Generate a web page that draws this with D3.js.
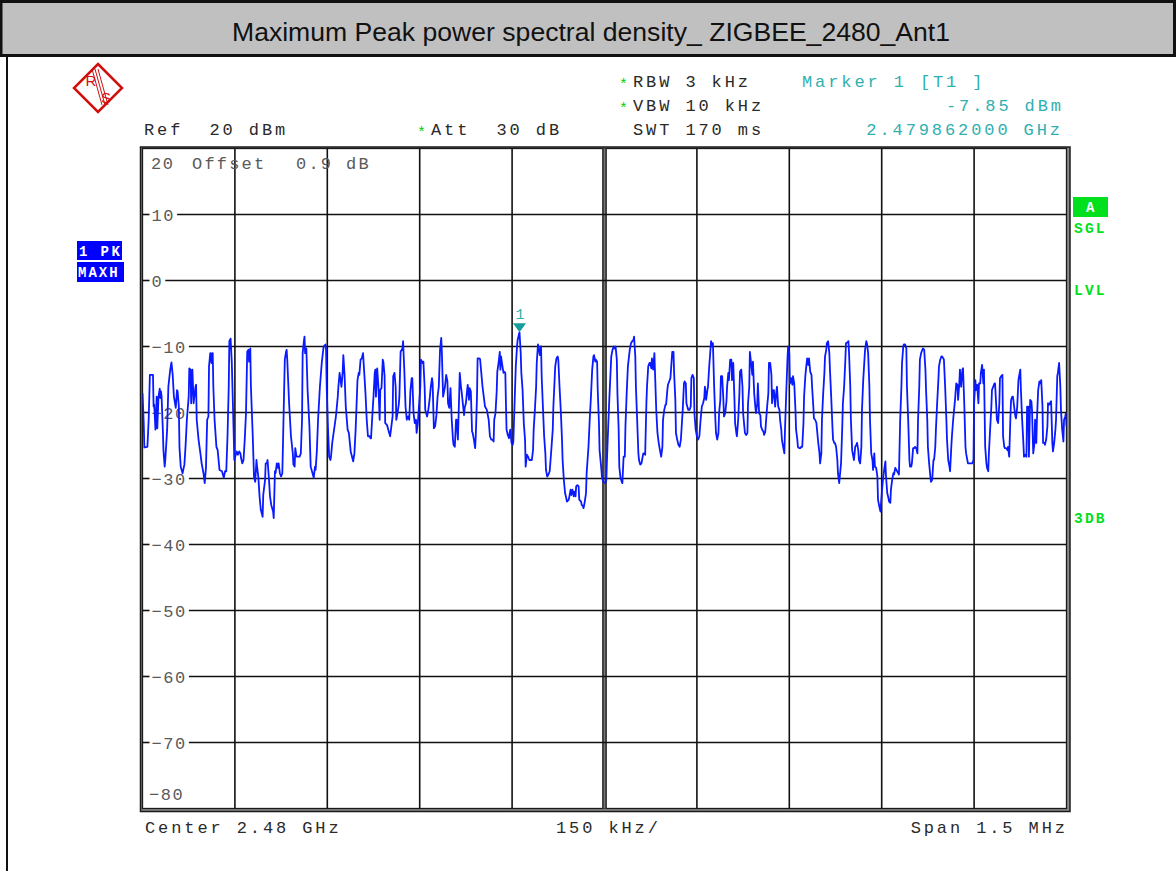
<!DOCTYPE html>
<html>
<head>
<meta charset="utf-8">
<script src="https://cdn.jsdelivr.net/npm/d3@7"></script>
<style>
  html, body { margin: 0; padding: 0; background: #fff; }
  svg { display: block; }
  .mono { font-family: "Liberation Mono", "DejaVu Sans Mono", monospace; white-space: pre; }
</style>
</head>
<body>
<svg id="chart" width="1176" height="871"></svg>
<script>
// ---- Screen data -------------------------------------------------------
const title = "Maximum Peak power spectral density_ ZIGBEE_2480_Ant1";
const spanKHz = 1500;
const refLevelDbm = 20;
const dbPerDiv = 10;
const levelTicks = [10, 0, -10, -20, -30, -40, -50, -60, -70];
const freqGridKHz = [-600, -450, -300, -150, 0, 150, 300, 450, 600];
const marker = { freqKHz: -138, levelDbm: -7.85, label: "1" };
const setupLeft = ["Ref  20 dBm", "Att  30 dB"];
const setupRight = ["RBW 3 kHz", "VBW 10 kHz", "SWT 170 ms"];
const markerText = ["Marker 1 [T1 ]", "-7.85 dBm", "2.479862000 GHz"];
const footer = ["Center 2.48 GHz", "150 kHz/", "Span 1.5 MHz"];

// Max-hold trace: [offset from centre in kHz, level in dBm]
const traceMaxHold = [
[-750,-17.1],[-748,-21.6],[-747,-25.3],[-742,-25.2],[-740,-21.1],[-738,-14.3],[-733,-14.3],[-732,-19.1],[-731,-18.8],[-729,-22.6],[-728,-20.6],[-727,-17.6],[-726,-22.4],[-724,-17.6],[-722,-16.4],[-721,-17.8],[-720,-16.8],[-719,-17.6],[-717,-22.6],[-716,-25.7],[-714,-28.2],[-713,-27.2],[-710,-22.6],[-708,-16.1],[-705,-13.5],[-703,-12.4],[-701,-14.3],[-699,-17.6],[-696,-19.3],[-694,-16.6],[-693,-16.8],[-691,-19.1],[-690,-25.2],[-688,-28.2],[-685,-29.2],[-682,-27.9],[-680,-24.9],[-678,-21.1],[-675,-17.6],[-674,-13.3],[-672,-13.5],[-671,-18.6],[-669,-13.5],[-667,-18.6],[-664,-16.1],[-663,-15.8],[-662,-21.1],[-659,-24.1],[-656,-26.2],[-654,-27.7],[-651,-29.2],[-649,-30.7],[-647,-28.4],[-645,-21.1],[-643,-20.6],[-642,-13.0],[-640,-11.0],[-638,-12.5],[-637,-11.0],[-636,-11.0],[-635,-16.1],[-633,-21.1],[-630,-25.2],[-628,-25.7],[-625,-28.7],[-621,-28.9],[-618,-29.9],[-616,-28.9],[-614,-28.9],[-612,-23.6],[-610,-16.1],[-609,-9.2],[-607,-8.8],[-605,-12.5],[-602,-23.1],[-601,-27.2],[-598,-26.2],[-597,-25.9],[-595,-26.4],[-593,-25.9],[-591,-26.2],[-590,-26.9],[-588,-27.7],[-586,-27.2],[-584,-24.1],[-582,-20.1],[-580,-10.8],[-578,-10.5],[-577,-12.3],[-575,-10.3],[-574,-16.1],[-571,-23.6],[-569,-29.7],[-567,-30.5],[-565,-27.2],[-564,-28.2],[-562,-29.7],[-560,-32.7],[-558,-34.7],[-555,-35.8],[-554,-32.5],[-551,-30.2],[-550,-27.7],[-548,-27.7],[-547,-27.2],[-545,-29.7],[-543,-32.7],[-541,-34.0],[-538,-35.0],[-537,-36.0],[-535,-28.9],[-534,-29.2],[-532,-27.7],[-530,-28.4],[-529,-27.7],[-527,-29.2],[-525,-29.7],[-523,-29.2],[-521,-20.6],[-519,-12.0],[-517,-10.8],[-516,-10.5],[-515,-12.0],[-512,-18.6],[-509,-23.6],[-506,-26.2],[-505,-27.9],[-503,-28.2],[-502,-25.4],[-500,-26.7],[-498,-26.7],[-495,-26.7],[-493,-26.2],[-491,-21.1],[-490,-11.0],[-488,-9.2],[-487,-8.5],[-486,-11.0],[-484,-10.3],[-482,-16.6],[-479,-22.1],[-477,-28.2],[-474,-29.2],[-472,-29.9],[-470,-28.2],[-469,-28.7],[-467,-25.9],[-465,-21.1],[-462,-16.1],[-459,-12.5],[-456,-10.0],[-453,-9.7],[-452,-10.5],[-451,-16.1],[-449,-22.1],[-447,-26.7],[-445,-27.2],[-444,-26.7],[-442,-24.6],[-439,-22.6],[-436,-20.6],[-433,-17.6],[-432,-16.1],[-430,-14.0],[-427,-16.1],[-425,-13.8],[-424,-11.3],[-422,-14.3],[-420,-19.1],[-417,-22.6],[-415,-23.1],[-412,-25.9],[-408,-27.4],[-406,-26.2],[-404,-22.6],[-401,-15.1],[-399,-14.0],[-398,-14.3],[-396,-12.0],[-394,-11.8],[-392,-11.0],[-391,-12.5],[-388,-17.1],[-386,-21.1],[-384,-23.6],[-381,-23.6],
[-380,-23.9],[-379,-23.9],[-377,-20.6],[-375,-17.6],[-373,-14.0],[-372,-13.5],[-371,-17.6],[-369,-13.3],[-367,-16.1],[-365,-21.1],[-364,-16.6],[-362,-16.3],[-360,-12.0],[-359,-12.3],[-357,-14.5],[-356,-21.6],[-353,-21.9],[-351,-22.6],[-348,-23.6],[-346,-22.1],[-344,-20.6],[-343,-14.5],[-341,-14.0],[-339,-16.1],[-338,-21.1],[-336,-20.1],[-334,-18.8],[-333,-17.6],[-331,-10.8],[-328,-10.3],[-327,-9.2],[-325,-13.5],[-323,-19.1],[-321,-21.1],[-319,-20.6],[-317,-21.1],[-315,-16.6],[-313,-14.8],[-312,-14.8],[-310,-20.1],[-308,-21.6],[-306,-21.1],[-305,-23.1],[-303,-21.6],[-301,-18.8],[-299,-16.1],[-298,-12.0],[-295,-12.5],[-294,-12.3],[-292,-16.1],[-291,-19.6],[-288,-20.6],[-286,-19.6],[-284,-18.1],[-282,-16.1],[-280,-14.8],[-279,-15.6],[-277,-22.4],[-275,-22.1],[-273,-20.6],[-271,-17.6],[-269,-16.1],[-267,-10.5],[-265,-8.7],[-264,-11.0],[-262,-17.6],[-260,-16.6],[-259,-16.1],[-257,-14.3],[-255,-15.3],[-254,-18.6],[-252,-19.3],[-250,-16.3],[-248,-21.1],[-246,-24.1],[-245,-24.9],[-243,-25.2],[-241,-21.1],[-240,-21.1],[-238,-24.1],[-236,-17.6],[-235,-14.0],[-233,-16.1],[-232,-16.8],[-230,-18.6],[-228,-20.4],[-227,-19.3],[-225,-18.6],[-223,-16.6],[-222,-15.8],[-220,-18.1],[-219,-16.3],[-217,-16.8],[-215,-22.9],[-214,-23.1],[-212,-24.1],[-210,-25.4],[-209,-23.6],[-207,-17.6],[-206,-11.8],[-204,-11.8],[-202,-11.9],[-200,-14.0],[-198,-16.1],[-196,-17.6],[-194,-19.1],[-191,-19.6],[-188,-21.1],[-186,-23.6],[-184,-24.1],[-182,-24.1],[-180,-24.4],[-179,-21.1],[-177,-20.1],[-175,-16.8],[-174,-13.8],[-172,-12.5],[-170,-10.8],[-169,-13.5],[-168,-11.5],[-166,-12.8],[-164,-14.0],[-163,-13.8],[-161,-14.0],[-160,-18.6],[-159,-22.6],[-157,-23.4],[-155,-23.9],[-154,-23.1],[-153,-22.6],[-151,-24.6],[-149,-24.9],[-148,-24.4],[-146,-18.6],[-144,-13.0],[-142,-10.0],[-141,-9.0],[-138,-7.85],[-136,-11.0],[-135,-14.0],[-133,-16.6],[-131,-21.6],[-129,-24.1],[-128,-28.2],[-126,-26.4],[-124,-26.7],[-122,-27.2],[-120,-27.2],[-118,-27.2],[-116,-25.7],[-115,-22.6],[-113,-19.6],[-111,-16.1],[-110,-12.5],[-108,-9.7],[-107,-10.0],[-105,-11.3],[-103,-10.0],[-102,-14.5],[-100,-19.1],[-98,-23.6],[-96,-26.2],[-95,-28.7],[-93,-29.7],[-91,-29.4],[-89,-28.9],[-88,-27.7],[-86,-25.2],[-84,-22.6],[-83,-19.1],[-81,-15.1],[-80,-13.0],[-78,-11.8],[-76,-11.5],[-75,-12.0],[-73,-16.1],[-71,-19.6],[-69,-24.1],[-68,-27.2],[-66,-30.2],[-64,-32.2],[-62,-33.0],[-61,-33.5],[-58,-33.2],[-57,-32.7],[-55,-31.7],[-54,-32.5],[-52,-31.7],[-50,-32.7],[-49,-32.0],[-47,-32.7],[-46,-31.2],[-44,-31.0],[-42,-31.2],[-41,-33.2],[-38,-33.5],[-37,-34.0],[-35,-34.2],[-34,-34.5],[-32,-33.5],[-30,-32.2],[-29,-29.2],[-26,-25.2],[-24,-21.1],[-22,-17.6],[-20,-13.5],[-18,-11.5],[-17,-11.3],[-15,-12.3],[-14,-12.0],[-12,-12.3],[-11,-16.6],[-9,-21.6],[-8,-25.7],
[-5,-28.7],[-4,-29.9],[-2,-30.5],[1,-30.7],[3,-30.2],[4,-27.2],[6,-22.1],[8,-17.6],[10,-13.5],[11,-11.5],[13,-10.5],[15,-10.0],[16,-10.3],[18,-10.0],[20,-12.0],[21,-17.1],[23,-22.6],[24,-28.2],[26,-29.9],[28,-30.5],[29,-30.7],[31,-26.7],[33,-26.7],[34,-22.1],[36,-17.1],[38,-13.0],[41,-10.5],[43,-9.5],[45,-9.2],[47,-9.0],[48,-8.5],[50,-11.5],[51,-16.1],[53,-21.1],[55,-26.2],[56,-27.2],[58,-27.9],[60,-27.7],[61,-27.2],[63,-26.2],[64,-26.2],[66,-26.4],[68,-18.6],[69,-16.1],[71,-13.0],[73,-12.5],[74,-12.5],[76,-13.3],[77,-11.8],[79,-13.5],[81,-11.0],[82,-14.0],[84,-19.6],[86,-23.1],[88,-24.6],[90,-25.7],[92,-26.7],[94,-25.2],[95,-21.1],[97,-19.6],[99,-18.8],[100,-18.8],[102,-16.6],[103,-15.8],[105,-15.3],[107,-14.8],[108,-13.5],[110,-10.8],[112,-10.8],[113,-14.0],[115,-18.1],[116,-23.1],[118,-24.1],[120,-24.9],[122,-25.2],[124,-24.1],[126,-21.1],[127,-19.6],[129,-15.6],[130,-15.3],[132,-15.6],[133,-18.6],[135,-19.3],[136,-19.6],[138,-19.6],[140,-19.1],[141,-14.8],[143,-14.3],[145,-14.8],[146,-20.1],[148,-22.6],[150,-23.6],[152,-24.1],[154,-23.6],[156,-21.1],[158,-19.1],[160,-18.6],[162,-17.8],[163,-16.1],[165,-18.1],[167,-16.6],[168,-16.1],[170,-13.0],[172,-10.5],[173,-9.2],[175,-10.0],[176,-9.5],[178,-16.1],[180,-21.1],[181,-23.1],[183,-24.1],[185,-23.1],[186,-20.1],[188,-18.1],[189,-14.5],[191,-14.5],[193,-18.1],[194,-20.6],[196,-20.1],[198,-18.3],[199,-16.1],[201,-14.0],[202,-15.1],[204,-12.0],[206,-12.0],[207,-15.1],[209,-12.5],[211,-18.1],[212,-21.6],[214,-23.1],[215,-23.6],[217,-21.1],[219,-17.1],[220,-13.8],[222,-13.5],[224,-16.1],[225,-20.1],[227,-22.1],[228,-23.1],[230,-23.4],[232,-23.1],[233,-18.6],[235,-16.1],[236,-10.8],[238,-12.5],[240,-14.3],[241,-12.3],[243,-17.1],[245,-19.3],[246,-20.1],[248,-18.6],[249,-15.6],[251,-20.1],[253,-20.4],[254,-22.1],[256,-22.6],[258,-22.9],[259,-23.4],[261,-22.9],[262,-21.6],[264,-19.1],[266,-17.1],[267,-12.5],[269,-12.5],[271,-14.3],[272,-18.6],[274,-16.6],[275,-16.6],[277,-19.1],[279,-16.8],[280,-16.1],[282,-19.1],[284,-19.6],[285,-21.1],[287,-22.6],[288,-24.1],[290,-25.2],[292,-26.2],[293,-22.6],[295,-17.1],[297,-12.0],[298,-10.0],[300,-11.0],[301,-15.6],[303,-14.8],[305,-15.8],[306,-14.5],[308,-15.6],[310,-19.6],[311,-22.6],[313,-24.1],[314,-25.2],[316,-25.4],[318,-25.4],[319,-25.2],[321,-25.2],[323,-21.6],[324,-17.6],[326,-14.5],[327,-13.5],[329,-11.8],[331,-12.8],[332,-11.8],[334,-13.8],[336,-14.3],[337,-16.1],[339,-19.1],[340,-20.9],[342,-21.1],[344,-21.6],[345,-22.6],[347,-24.6],[349,-26.2],[350,-27.7],[352,-26.2],[353,-21.1],[355,-17.1],[357,-14.0],[358,-11.5],[360,-10.5],[361,-9.5],[363,-9.2],[365,-11.0],[366,-13.5],[368,-17.6],[370,-22.1],[371,-24.1],[373,-24.6],[374,-24.6],[376,-25.2],[378,-27.2],[379,-29.2],[381,-30.7],
[384,-27.7],[386,-22.1],[387,-18.6],[389,-16.1],[391,-12.0],[392,-9.5],[394,-9.4],[396,-9.2],[397,-11.0],[399,-16.1],[400,-21.1],[402,-25.7],[404,-26.7],[405,-27.2],[407,-25.2],[409,-24.9],[410,-24.6],[412,-25.7],[413,-27.2],[415,-27.7],[417,-25.2],[418,-19.6],[420,-15.1],[422,-12.0],[423,-10.5],[425,-9.2],[426,-9.5],[428,-11.0],[430,-16.1],[431,-21.1],[433,-26.2],[435,-27.2],[436,-28.7],[438,-26.2],[439,-28.2],[441,-28.4],[443,-29.7],[444,-33.2],[446,-34.2],[448,-35.0],[449,-33.7],[451,-31.2],[452,-30.2],[454,-28.7],[456,-27.4],[457,-29.7],[459,-32.2],[461,-33.0],[462,-33.5],[464,-33.7],[465,-31.7],[467,-30.2],[469,-29.2],[470,-29.4],[472,-28.4],[474,-28.7],[475,-28.9],[477,-29.2],[478,-29.4],[480,-21.1],[482,-16.1],[483,-12.5],[485,-10.0],[486,-9.7],[488,-9.7],[490,-10.3],[491,-16.1],[493,-21.1],[495,-27.2],[496,-28.2],[498,-28.2],[499,-27.7],[501,-25.4],[503,-25.4],[504,-25.2],[506,-25.4],[508,-26.2],[509,-21.1],[511,-16.1],[512,-12.0],[514,-11.0],[516,-10.5],[517,-10.3],[519,-10.5],[521,-13.5],[522,-16.6],[524,-21.1],[525,-25.2],[527,-27.7],[529,-29.7],[530,-30.5],[532,-30.2],[534,-27.2],[535,-27.2],[537,-25.2],[538,-22.6],[540,-18.6],[542,-15.1],[543,-13.0],[545,-12.0],[547,-11.5],[548,-11.5],[550,-11.8],[551,-12.0],[553,-16.1],[555,-21.1],[556,-24.1],[558,-27.2],[560,-28.2],[561,-28.9],[563,-25.2],[564,-23.6],[566,-21.1],[568,-19.1],[569,-18.1],[571,-15.6],[573,-15.8],[574,-18.1],[576,-15.6],[577,-13.5],[579,-16.1],[581,-13.5],[582,-13.3],[584,-18.6],[586,-25.2],[587,-26.2],[589,-27.2],[590,-27.7],[594,-27.7],[597,-27.7],[599,-27.2],[600,-18.6],[602,-15.1],[603,-16.6],[605,-15.8],[607,-18.6],[608,-15.6],[610,-15.6],[611,-14.0],[613,-12.8],[615,-15.6],[616,-13.5],[618,-25.2],[620,-27.7],[621,-28.4],[623,-28.9],[624,-26.2],[626,-22.6],[628,-19.1],[629,-16.6],[631,-16.1],[633,-15.6],[634,-15.6],[636,-19.1],[637,-21.1],[639,-21.6],[641,-18.6],[642,-14.8],[644,-14.5],[646,-14.3],[647,-23.6],[649,-25.2],[650,-25.4],[652,-25.4],[654,-25.7],[655,-25.2],[657,-26.7],[659,-20.6],[660,-18.1],[662,-17.6],[663,-17.6],[665,-19.1],[667,-20.6],[668,-20.9],[670,-19.1],[672,-15.1],[673,-14.5],[675,-13.5],[676,-16.6],[678,-21.1],[680,-24.6],[681,-26.7],[683,-26.4],[685,-26.7],[686,-19.1],[688,-19.1],[689,-26.7],[691,-18.1],[693,-18.3],[694,-19.6],[696,-26.2],[698,-24.6],[699,-21.1],[701,-24.6],[702,-21.1],[704,-16.6],[706,-15.3],[707,-15.6],[709,-15.1],[711,-19.1],[712,-24.6],[714,-24.6],[715,-24.9],[717,-24.1],[719,-22.1],[720,-18.6],[722,-18.8],[723,-18.6],[725,-18.3],[727,-24.6],[728,-25.9],[730,-24.6],[732,-22.6],[733,-21.1],[735,-14.5],[736,-14.0],[738,-12.5],[740,-16.1],[741,-19.6],[743,-22.6],[745,-24.4],[746,-21.1],[748,-20.6],[749,-20.1],[750,-22.1]
];

// ---- Layout ------------------------------------------------------------
const svg = d3.select("#chart");
const plot = { left: 142.5, right: 1066.5, top: 148.5, bottom: 808.5 };

const x = d3.scaleLinear().domain([-spanKHz / 2, spanKHz / 2]).range([plot.left, plot.right]);
const y = d3.scaleLinear().domain([refLevelDbm - 10 * dbPerDiv, refLevelDbm]).range([plot.bottom, plot.top]);

const TXT = "#2a2a2a", GRID = "#111", TEAL = "#2fb0b0", GREEN = "#00e01c", BLUE = "#0000ff", RED = "#d01010";
const FS = 17, LS = 2.9; // instrument font size and letter spacing

function mono(g, px, py, text, opt = {}) {
  const t = g.append("text")
    .attr("class", "mono")
    .attr("x", px).attr("y", py)
    .attr("font-size", opt.size || FS)
    .attr("letter-spacing", opt.ls !== undefined ? opt.ls : LS)
    .attr("font-weight", opt.weight || "normal")
    .attr("fill", opt.fill || TXT)
    .text(text);
  if (opt.endAt !== undefined) {
    // right-align on the last glyph (trailing letter spacing excluded)
    const w = t.node().getComputedTextLength() - (opt.ls !== undefined ? opt.ls : LS);
    t.attr("x", opt.endAt - w);
  }
  return t;
}

// Title bar
svg.append("rect").attr("x", 1).attr("y", 1.5).attr("width", 1173.5).attr("height", 54)
  .attr("fill", "#c0c0c0").attr("stroke", "#111").attr("stroke-width", 3);
svg.append("line").attr("x1", 7).attr("x2", 7).attr("y1", 55).attr("y2", 871)
  .attr("stroke", "#111").attr("stroke-width", 2);
svg.append("text").attr("x", 591).attr("y", 41)
  .attr("text-anchor", "middle")
  .attr("font-family", "'Liberation Sans', Arial, sans-serif")
  .attr("font-size", 26.5)
  .attr("textLength", 718).attr("lengthAdjust", "spacingAndGlyphs")
  .attr("fill", "#111")
  .text(title);

// R&S logo
const logo = svg.append("g").attr("transform", "translate(98,88)");
logo.append("path").attr("d", "M0,-24 L24,0 L0,24 L-24,0 Z")
  .attr("fill", "none").attr("stroke", RED).attr("stroke-width", 2.5).attr("stroke-linejoin", "miter");
[-3, 0, 3].forEach(o => {
  logo.append("line").attr("x1", -3 + o).attr("y1", -19).attr("x2", 7 + o).attr("y2", 17)
    .attr("stroke", RED).attr("stroke-width", 1);
});
logo.append("text").attr("x", -7).attr("y", -2).attr("text-anchor", "middle")
  .attr("font-family", "'Liberation Sans', sans-serif").attr("font-size", 15).attr("fill", RED).text("R");
logo.append("text").attr("x", 8).attr("y", 15).attr("text-anchor", "middle")
  .attr("font-family", "'Liberation Sans', sans-serif").attr("font-size", 15).attr("fill", RED).text("S");

// Header settings
const hdr = svg.append("g");
const star = (px, py) => mono(hdr, px, py, "*", { fill: "#00d000", ls: 0, size: 15 });
star(619, 89); mono(hdr, 633, 87, setupRight[0]);
star(619, 113); mono(hdr, 633, 111, setupRight[1]);
mono(hdr, 633, 135, setupRight[2]);
mono(hdr, 144, 135, setupLeft[0]);
star(417, 137); mono(hdr, 431, 135, setupLeft[1]);
mono(hdr, 802, 87, markerText[0], { fill: TEAL });
mono(hdr, 0, 111, markerText[1], { fill: TEAL, endAt: 1061 });
mono(hdr, 0, 135, markerText[2], { fill: TEAL, endAt: 1060 });

// Footer
mono(svg, 145, 833, footer[0]);
mono(svg, 556, 833, footer[1]);
mono(svg, 0, 833, footer[2], { endAt: 1065 });

// Side annotations
svg.append("rect").attr("x", 77).attr("y", 241).attr("width", 45).attr("height", 19).attr("fill", BLUE);
svg.append("rect").attr("x", 77).attr("y", 262).attr("width", 47).attr("height", 20).attr("fill", BLUE);
mono(svg, 79, 256, "1 PK", { fill: "#fff", weight: "bold", size: 14, ls: 2.4 });
mono(svg, 78, 277, "MAXH", { fill: "#fff", weight: "bold", size: 14, ls: 2.0 });

svg.append("rect").attr("x", 1073).attr("y", 197).attr("width", 35).attr("height", 20).attr("fill", GREEN);
mono(svg, 1086, 212, "A", { fill: "#fff", weight: "bold", size: 14, ls: 0 });
mono(svg, 1074, 233, "SGL", { fill: GREEN, weight: "bold", size: 14.5, ls: 2.2 });
mono(svg, 1074, 295, "LVL", { fill: GREEN, weight: "bold", size: 14.5, ls: 2.2 });
mono(svg, 1074, 523, "3DB", { fill: GREEN, weight: "bold", size: 14.5, ls: 2.2 });

// ---- Graticule ---------------------------------------------------------
const frame = svg.append("g");
frame.append("rect").attr("x", 140.5).attr("y", 147).attr("width", 929.5).attr("height", 664.5)
  .attr("fill", "#8a8a8a").attr("stroke", "#1a1a1a").attr("stroke-width", 1.5);
frame.append("rect").attr("x", plot.left).attr("y", plot.top)
  .attr("width", plot.right - plot.left).attr("height", plot.bottom - plot.top)
  .attr("fill", "#fff").attr("stroke", "#1a1a1a").attr("stroke-width", 1.3);

const grid = svg.append("g");
freqGridKHz.forEach(f => {
  if (f === 0) {
    grid.append("rect").attr("x", x(0) - 2).attr("y", plot.top).attr("width", 4)
      .attr("height", plot.bottom - plot.top).attr("fill", "#777");
    [-1.6, 1.6].forEach(o => grid.append("line").attr("x1", x(0) + o).attr("x2", x(0) + o)
      .attr("y1", plot.top).attr("y2", plot.bottom).attr("stroke", GRID).attr("stroke-width", 1.2));
  } else {
    grid.append("line").attr("x1", x(f)).attr("x2", x(f)).attr("y1", plot.top).attr("y2", plot.bottom)
      .attr("stroke", GRID).attr("stroke-width", 1.6);
  }
});

// Level lines, each broken around its label
const LBL = "#5a5a5a";
levelTicks.forEach(v => {
  const lbl = grid.append("text").attr("class", "mono")
    .attr("x", 151.5).attr("y", y(v)).attr("dy", "0.36em")
    .attr("font-size", FS).attr("letter-spacing", 1.6).attr("fill", LBL)
    .text(v < 0 ? "\u2212" + Math.abs(v) : String(v));
  const w = lbl.node().getComputedTextLength();
  grid.append("line").attr("x1", plot.left).attr("x2", 149.5).attr("y1", y(v)).attr("y2", y(v))
    .attr("stroke", GRID).attr("stroke-width", 1.6);
  grid.append("line").attr("x1", 151.5 + w + 2).attr("x2", plot.right).attr("y1", y(v)).attr("y2", y(v))
    .attr("stroke", GRID).attr("stroke-width", 1.6);
});
// Reference level with offset, and the bottom level label
mono(grid, 151, 169, String(refLevelDbm), { fill: LBL, ls: 1.6 });
mono(grid, 192, 169, "Offset", { fill: LBL, ls: 2.2 });
mono(grid, 296, 169, "0.9", { fill: LBL, ls: 2.2 });
mono(grid, 346, 169, "dB", { fill: LBL, ls: 2.2 });
mono(grid, 149, 800, "\u221280", { fill: LBL, ls: 1.6 });

// ---- Trace -------------------------------------------------------------
svg.append("clipPath").attr("id", "plotClip").append("rect")
  .attr("x", plot.left).attr("y", plot.top)
  .attr("width", plot.right - plot.left).attr("height", plot.bottom - plot.top);

const line = d3.line().x(d => x(d[0])).y(d => y(d[1]));
svg.append("path").datum(traceMaxHold)
  .attr("clip-path", "url(#plotClip)")
  .attr("d", line)
  .attr("fill", "none").attr("stroke", "#0a1aff").attr("stroke-width", 1.8)
  .attr("stroke-linejoin", "round");

// ---- Marker ------------------------------------------------------------
const mx = x(marker.freqKHz), my = y(marker.levelDbm);
svg.append("path")
  .attr("d", `M${mx - 6.5},${my - 9} L${mx + 6.5},${my - 9} L${mx},${my} Z`)
  .attr("fill", "#169c9c");
mono(svg, mx - 4, my - 13, marker.label, { fill: TEAL, ls: 0, size: 15 });
</script>
</body>
</html>
